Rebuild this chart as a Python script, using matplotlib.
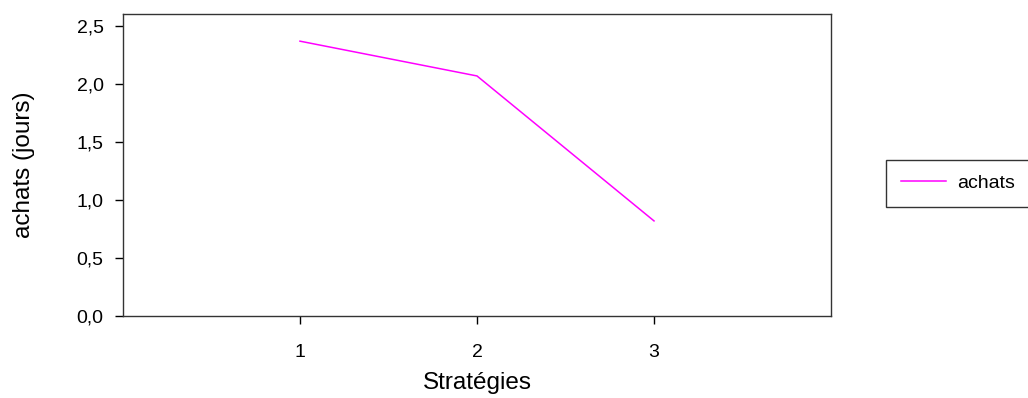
import matplotlib
matplotlib.use('Agg')
import matplotlib.pyplot as plt

# data
strategies = [1, 2, 3]
achats = [2.37, 2.07, 0.82]
y_ticks = [0.0, 0.5, 1.0, 1.5, 2.0, 2.5]

plt.rcParams['font.family'] = ['Liberation Sans', 'DejaVu Sans']

fig = plt.figure(figsize=(10.28, 3.98), dpi=100)
ax = fig.add_axes([0.1196, 0.206, 0.6888, 0.7576])

ax.plot(strategies, achats, color='#FF00FF', linewidth=1.1, label='achats')

ax.set_xlim(0, 4)
ax.set_ylim(0, 2.6)
ax.set_xticks(strategies)
ax.set_yticks(y_ticks)
ax.set_yticklabels([f'{v:.1f}'.replace('.', ',') for v in y_ticks])
ax.tick_params(direction='out', length=6, width=1, labelsize=14, pad=8)
ax.tick_params(axis='x', pad=14)

for s in ax.spines.values():
    s.set_linewidth(1)
    s.set_color('#333333')

ax.set_xlabel('Stratégies', fontsize=17.5)
ax.set_ylabel('achats (jours)', fontsize=17.5)
ax.xaxis.set_label_coords(0.5, -0.222)
ax.xaxis.label.set_va('center')
ax.yaxis.set_label_coords(-0.14, 0.5)
ax.yaxis.label.set_va('center')

leg = fig.legend(loc='upper left', bbox_to_anchor=(0.862, 0.598),
                 fontsize=14, handlelength=2.35, fancybox=False,
                 borderpad=0.75, handletextpad=0.55, borderaxespad=0)
leg.get_frame().set_edgecolor('black')
leg.get_frame().set_linewidth(1)

plt.savefig('out.png', dpi=100)
